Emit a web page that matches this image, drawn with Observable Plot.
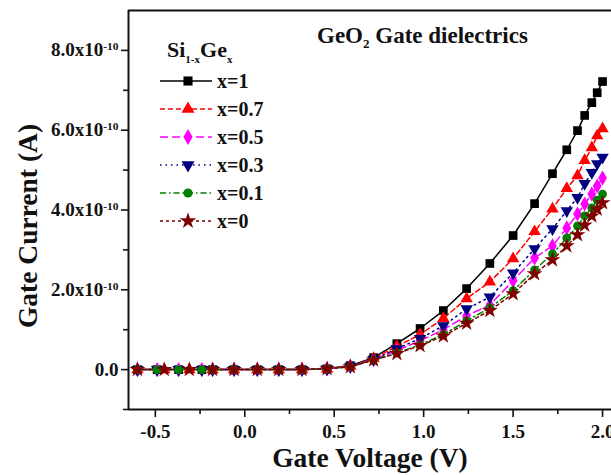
<!DOCTYPE html>
<html><head><meta charset="utf-8">
<script src="https://cdn.jsdelivr.net/npm/d3@7"></script>
<script src="https://cdn.jsdelivr.net/npm/@observablehq/plot@0.6"></script>
<style>
body{margin:0;background:#fff;}
#wrap{position:relative;width:611px;height:475px;overflow:hidden;background:#fff;}
#wrap svg.ov{position:absolute;left:0;top:0;pointer-events:none;}
</style></head><body><div id="wrap"></div>
<script>
// ---- data (current in units of 1e-10 A) ----
const voltage = [-0.60,-0.49,-0.45,-0.37,-0.31,-0.24,-0.18,-0.06,0.07,0.19,0.32,0.46,0.59,0.72,0.85,0.98,1.11,1.24,1.37,1.50,1.62,1.72,1.80,1.86,1.90,1.94,1.97,2.00];
const cur_x1  = [0,0,null,0,null,0,0, 0,0,0,0,0.02,0.10,0.30,0.65,1.03,1.48,2.03,2.66,3.36,4.16,4.91,5.51,5.99,6.37,6.69,6.94,7.22];
const cur_x07 = [0,null,0,null,0,null,0, 0,0,0,0,0.02,0.09,0.28,0.58,0.88,1.28,1.78,2.20,2.78,3.46,4.03,4.54,4.86,5.24,5.56,5.86,6.04];
const cur_x05 = [0,0,null,0,null,0,0, 0,0,0,0,0.02,0.08,0.25,0.48,0.72,1.00,1.35,1.62,2.23,2.80,3.10,3.55,3.90,4.15,4.40,4.60,4.80];
const cur_x03 = [0,0,null,0,null,0,0, 0,0,0,0,0.02,0.08,0.26,0.52,0.78,1.10,1.52,1.82,2.42,3.03,3.53,3.98,4.31,4.66,4.94,5.16,5.32];
const cur_x01 = [0,0,null,0,null,0,0, 0,0,0,0,0.02,0.07,0.24,0.42,0.62,0.88,1.22,1.55,1.98,2.50,2.90,3.30,3.60,3.85,4.05,4.25,4.40];
const cur_x00 = [0,null,0,null,0,null,0, 0,0,0,0,0.02,0.07,0.24,0.40,0.60,0.84,1.16,1.48,1.90,2.40,2.75,3.10,3.38,3.62,3.85,4.02,4.18];
const seriesNames = ["x=1","x=0.7","x=0.5","x=0.3","x=0.1","x=0"];
const seriesValues = [cur_x1, cur_x07, cur_x05, cur_x03, cur_x01, cur_x00];
const xTicks = [-0.5, 0, 0.5, 1.0, 1.5, 2.0];
const xMinorTicks = [-0.25, 0.25, 0.75, 1.25, 1.75];
const yTicks = [0, 2e-10, 4e-10, 6e-10, 8e-10];
const yMinorTicks = [-1e-10, 1e-10, 3e-10, 5e-10, 7e-10];
const xDomain = [-0.65, 2.05];
const yDomain = [-1e-10, 9e-10];
const UNIT = 1e-10;

// ---- styles ----
const invTriangle = {draw(ctx, size){const y=Math.sqrt(size/(Math.sqrt(3)*3));ctx.moveTo(0,2*y);ctx.lineTo(-Math.sqrt(3)*y,-y);ctx.lineTo(Math.sqrt(3)*y,-y);ctx.closePath();}};
const colors = ["#000000","#ff0000","#ff00ff","#000080","#008000","#800000"];
const dashes = [null,"5,3","8,4","1.5,4","6,3,1.5,3","3,3"];
const symbolsP = ["square","triangle","diamond",invTriangle,"circle","star"];
const symbolsD = [d3.symbolSquare,d3.symbolTriangle,d3.symbolDiamond,invTriangle,d3.symbolCircle,d3.symbolStar];
const radii = [4.9,4.6,4.6,4.6,4.4,5];
const FONT = '"Liberation Serif","Times New Roman",serif';

const rowsBySeries = seriesValues.map((vals, i) =>
  voltage.map((v, j) => ({series: seriesNames[i], V: v, I: vals[j] == null ? null : vals[j] * UNIT}))
         .filter(d => d.I != null));

const marks = [];
rowsBySeries.forEach((rows, i) => {
  marks.push(Plot.line(rows, {x: "V", y: "I", stroke: colors[i], strokeWidth: 1.5, strokeDasharray: dashes[i]}));
});
rowsBySeries.forEach((rows, i) => {
  marks.push(Plot.dot(rows, {x: "V", y: "I", symbol: symbolsP[i], r: radii[i], fill: colors[i], stroke: "none"}));
});

const yFmt = d => d === 0 ? "0.0" : `${(d / UNIT).toFixed(1)}x10^-10`;

const chart = Plot.plot({
  width: 611, height: 475,
  marginLeft: 128, marginTop: 10, marginBottom: 66, marginRight: 0,
  style: {fontFamily: FONT, fontWeight: "bold", fontSize: "19px", color: "#111", background: "#fff"},
  x: {domain: xDomain},
  y: {domain: yDomain},
  marks: [
    ...marks,
    Plot.axisX(xTicks, {tickSize: 8, tickPadding: 7, strokeWidth: 1.6, fontSize: 19, tickFormat: d => d.toFixed(1), label: null}),
    Plot.axisX(xMinorTicks, {tickSize: 5, strokeWidth: 1.6, tickFormat: () => "", label: null}),
    Plot.axisY(yTicks, {tickSize: 7, tickPadding: 3, strokeWidth: 1.6, fontSize: 19, tickFormat: yFmt, label: null}),
    Plot.axisY(yMinorTicks, {tickSize: 5, strokeWidth: 1.6, tickFormat: () => "", label: null}),
    Plot.ruleY([yDomain[1]], {stroke: "#111", strokeWidth: 2.2}),
    Plot.ruleY([yDomain[0]], {stroke: "#111", strokeWidth: 2}),
    Plot.ruleX([xDomain[0]], {stroke: "#111", strokeWidth: 2})
  ]
});

// superscripts in y tick labels
const NS = "http://www.w3.org/2000/svg";
chart.querySelectorAll('g[aria-label="y-axis tick label"] text').forEach(t => {
  const s = t.textContent;
  if (s.includes("^")) {
    const [base, exp] = s.split("^");
    t.textContent = "";
    const a = document.createElementNS(NS, "tspan"); a.textContent = base; t.appendChild(a);
    const b = document.createElementNS(NS, "tspan"); b.textContent = exp;
    b.setAttribute("dy", "-0.55em"); b.setAttribute("font-size", "0.6em"); t.appendChild(b);
  }
});

const wrap = document.getElementById("wrap");
wrap.appendChild(chart);

// ---- overlay: axis labels, annotation, legend ----
const ov = d3.select(wrap).append("svg").attr("class", "ov").attr("width", 611).attr("height", 475)
  .style("font-family", FONT).style("font-weight", "bold").attr("fill", "#111");

ov.append("text").attr("x", 370).attr("y", 467).attr("text-anchor", "middle").attr("font-size", 27.5).text("Gate Voltage (V)");
ov.append("text").attr("transform", "translate(37,226) rotate(-90)").attr("text-anchor", "middle").attr("font-size", 27.5).text("Gate Current (A)");

const ann = ov.append("text").attr("x", 317).attr("y", 43).attr("font-size", 23);
ann.append("tspan").text("GeO");
ann.append("tspan").attr("font-size", 13).attr("dy", 5).text("2");
ann.append("tspan").attr("dy", -5).text(" Gate dielectrics");

const lt = ov.append("text").attr("x", 167).attr("y", 57).attr("font-size", 22);
lt.append("tspan").text("Si");
lt.append("tspan").attr("font-size", 11).attr("dy", 6).text("1-x");
lt.append("tspan").attr("dy", -6).text("Ge");
lt.append("tspan").attr("font-size", 11).attr("dy", 6).text("x");

seriesNames.forEach((name, i) => {
  const cy = 81 + 28 * i;
  const g = ov.append("g");
  g.append("line").attr("x1", 160).attr("x2", 212).attr("y1", cy).attr("y2", cy)
    .attr("stroke", colors[i]).attr("stroke-width", 1.6).attr("stroke-dasharray", dashes[i]);
  g.append("path").attr("transform", `translate(188,${cy})`)
    .attr("d", d3.symbol(symbolsD[i], Math.PI * radii[i] * radii[i] * 1.1)())
    .attr("fill", colors[i]);
  g.append("text").attr("x", 217).attr("y", cy + 7).attr("font-size", 20).text(name);
});
</script></body></html>
